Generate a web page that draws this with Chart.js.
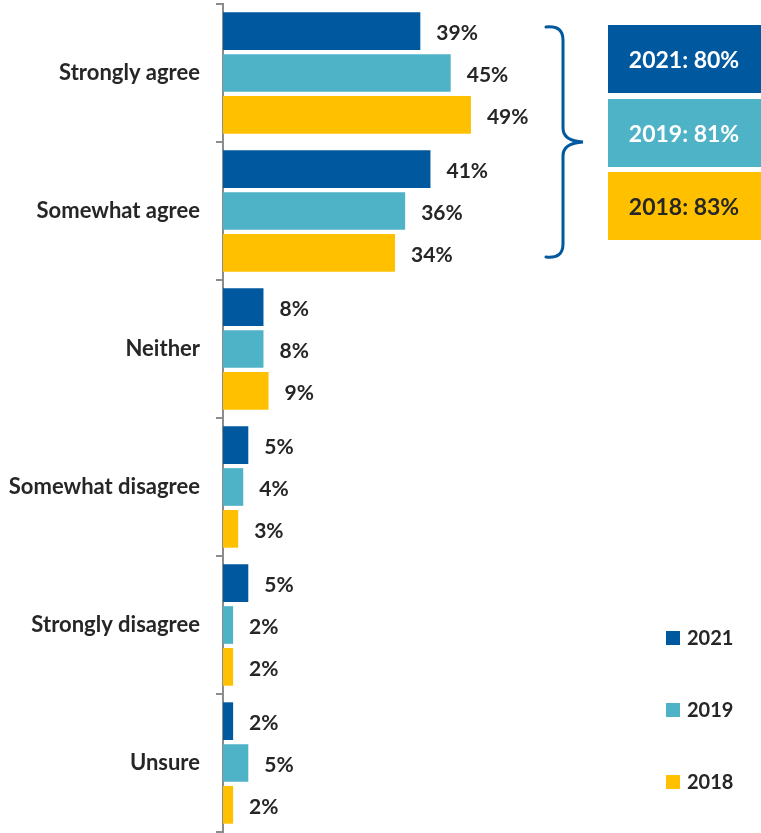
<!DOCTYPE html>
<html>
<head>
<meta charset="utf-8">
<script src="https://cdn.jsdelivr.net/npm/chart.js@4"></script>
<style>
  html, body { margin: 0; padding: 0; background: #fff; }
  canvas { display: block; }
</style>
</head>
<body>
<canvas id="agreeChart" width="761" height="833"></canvas>
<script>
// chart data
const categories = ['Strongly agree', 'Somewhat agree', 'Neither', 'Somewhat disagree', 'Strongly disagree', 'Unsure'];
const seriesNames = ['2021', '2019', '2018'];
const values2021 = [39, 41, 8, 5, 5, 2];
const values2019 = [45, 36, 8, 4, 2, 5];
const values2018 = [49, 34, 9, 3, 2, 2];
const agreeTotals = [80, 81, 83]; // strongly + somewhat agree, per year

const colors = ['#00599f', '#4fb3c8', '#ffc000'];
const textDark = '#262626';
const fontFamily = 'Lato, "Open Sans", sans-serif';

// value labels next to each bar
const valueLabels = {
    id: 'valueLabels',
    afterDatasetsDraw(chart) {
        const c = chart.ctx;
        c.save();
        c.font = 'bold 21px ' + fontFamily;
        c.fillStyle = textDark;
        c.textAlign = 'left';
        c.textBaseline = 'middle';
        chart.data.datasets.forEach((ds, i) => {
            chart.getDatasetMeta(i).data.forEach((bar, j) => {
                c.fillText(ds.data[j] + '%', bar.x + 16, bar.y + 2);
            });
        });
        c.restore();
    }
};

// brace + net agree boxes + legend
const extras = {
    id: 'extras',
    afterDraw(chart) {
        const c = chart.ctx;
        c.save();

        // brace
        c.strokeStyle = colors[0];
        c.lineWidth = 3;
        c.lineCap = 'round';
        c.beginPath();
        c.moveTo(546, 27);
        c.quadraticCurveTo(563, 25, 563, 40);
        c.lineTo(563, 128);
        c.quadraticCurveTo(563, 141, 583, 142);
        c.quadraticCurveTo(563, 143, 563, 156);
        c.lineTo(563, 244);
        c.quadraticCurveTo(563, 259, 546, 257);
        c.stroke();

        // net agree boxes
        const boxTops = [25, 99, 172];
        c.font = 'bold 23px ' + fontFamily;
        c.textAlign = 'center';
        c.textBaseline = 'middle';
        agreeTotals.forEach((v, i) => {
            c.fillStyle = colors[i];
            c.fillRect(608, boxTops[i], 153, 68);
            c.fillStyle = i < 2 ? '#ffffff' : textDark;
            c.fillText(seriesNames[i] + ': ' + v + '%', 684, boxTops[i] + 36);
        });

        // legend
        const legendY = [638, 710, 782];
        c.font = 'bold 20px ' + fontFamily;
        c.textAlign = 'left';
        seriesNames.forEach((name, i) => {
            c.fillStyle = colors[i];
            c.fillRect(666, legendY[i] - 7, 14, 14);
            c.fillStyle = textDark;
            c.fillText(name, 687, legendY[i] + 1);
        });

        c.restore();
    }
};

const ctx = document.getElementById('agreeChart').getContext('2d');
const agreeChart = new Chart(ctx, {
    type: 'bar',
    data: {
        labels: categories,
        datasets: [
            { label: seriesNames[0], data: values2021, backgroundColor: colors[0] },
            { label: seriesNames[1], data: values2019, backgroundColor: colors[1] },
            { label: seriesNames[2], data: values2018, backgroundColor: colors[2] }
        ]
    },
    options: {
        indexAxis: 'y',
        responsive: false,
        animation: false,
        devicePixelRatio: 1,
        layout: { padding: { top: 4, right: 32, bottom: 1, left: 0 } },
        datasets: {
            bar: { categoryPercentage: 0.91, barPercentage: 0.9 }
        },
        scales: {
            x: { display: false, min: 0, max: 100 },
            y: {
                grid: {
                    drawOnChartArea: false,
                    tickLength: 7,
                    color: '#8c8c8c',
                    lineWidth: 2
                },
                border: { color: '#8c8c8c', width: 2 },
                ticks: {
                    color: textDark,
                    padding: 16,
                    font: { family: fontFamily, size: 22, weight: 'bold' }
                },
                afterFit(scale) {
                    scale.width = 223;
                    scale.paddingTop = 0;
                    scale.paddingBottom = 0;
                }
            }
        },
        plugins: {
            legend: { display: false },
            tooltip: { enabled: false }
        }
    },
    plugins: [valueLabels, extras]
});
</script>
</body>
</html>
